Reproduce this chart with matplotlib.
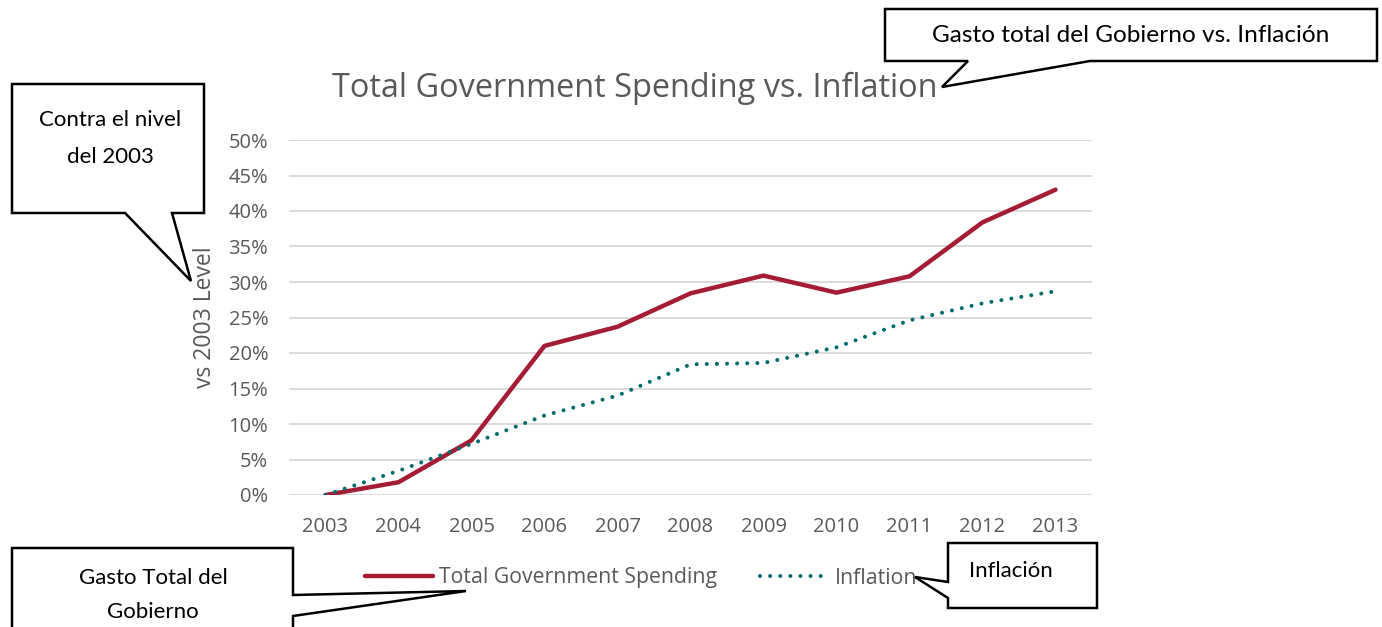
import matplotlib
matplotlib.use("Agg")
import matplotlib.pyplot as plt
from matplotlib.patches import Polygon
from matplotlib.ticker import PercentFormatter

# ---- data ----
years = ["2003", "2004", "2005", "2006", "2007", "2008", "2009", "2010", "2011", "2012", "2013"]
spending = [0.0, 1.8, 7.7, 21.0, 23.7, 28.4, 30.9, 28.5, 30.8, 38.4, 43.0]
inflation = [0.0, 3.4, 7.2, 11.2, 14.0, 18.4, 18.6, 20.8, 24.6, 27.0, 28.7]
yticks = [0, 5, 10, 15, 20, 25, 30, 35, 40, 45, 50]

title = "Total Government Spending vs. Inflation"
ylabel = "vs 2003 Level"
series_names = ["Total Government Spending", "Inflation"]

W, H = 1382, 627
GRAY = "#595959"
RED = "#A51C36"
TEAL = "#006B6B"
CHART_FONT = ["Open Sans", "DejaVu Sans"]
NOTE_FONT = ["Lato", "DejaVu Sans"]

fig = plt.figure(figsize=(W / 100, H / 100), dpi=100)
fig.patch.set_facecolor("white")

ax = fig.add_axes([289 / W, 1 - 495 / H, (1092 - 289) / W, (495 - 140) / H])
x = list(range(len(years)))
l1, = ax.plot(x, spending, color=RED, lw=3.2, solid_capstyle="round", solid_joinstyle="round", zorder=3)
l2, = ax.plot(x, inflation, color=TEAL, lw=2.9, linestyle=(0, (0.01, 2.5)),
              dash_capstyle="round", zorder=4)

ax.set_xlim(-0.5, len(years) - 0.5)
ax.set_ylim(0, 50)
ax.set_yticks(yticks)
ax.yaxis.set_major_formatter(PercentFormatter(decimals=0))
ax.set_xticks(x)
ax.set_xticklabels(years)
for s in ax.spines.values():
    s.set_visible(False)
ax.grid(axis="y", color="#D9D9D9", lw=1.3)
ax.set_axisbelow(True)
ax.tick_params(axis="both", length=0, labelsize=14.5, labelcolor=GRAY)
ax.tick_params(axis="y", pad=15)
ax.tick_params(axis="x", pad=16)
for lab in ax.get_xticklabels() + ax.get_yticklabels():
    lab.set_family(CHART_FONT)

fig.text(205 / W, 1 - 317 / H, ylabel, rotation=90, ha="center", va="center",
         fontsize=16.5, color=GRAY, family=CHART_FONT)
fig.text(635 / W, 1 - 88 / H, title, ha="center", va="center",
         fontsize=23.4, color=GRAY, family=CHART_FONT)

leg = fig.legend([l1, l2], series_names, loc="center", bbox_to_anchor=(641 / W, 1 - 578 / H),
                 ncol=2, frameon=False, handlelength=3.2, handletextpad=0.3,
                 columnspacing=2.0, prop={"family": CHART_FONT, "size": 15.3})
for t in leg.get_texts():
    t.set_color(GRAY)

# ---- callout overlay (pixel coordinates, y downward) ----
ov = fig.add_axes([0, 0, 1, 1], zorder=10)
ov.set_xlim(0, W)
ov.set_ylim(H, 0)
ov.axis("off")
ov.patch.set_alpha(0)

callouts = [
    [(12, 84), (204, 84), (204, 213), (172, 213), (191, 281), (125, 213), (12, 213)],
    [(885, 9), (1377, 9), (1377, 61), (1090, 61), (942, 87), (968, 61), (885, 61)],
    [(12, 548), (293, 548), (293, 595), (466, 591), (293, 616), (293, 660), (12, 660)],
    [(948, 543), (1097, 543), (1097, 608), (948, 608), (948, 598), (915, 577), (948, 582)],
]
for pts in callouts:
    ov.add_patch(Polygon(pts, closed=True, facecolor="white", edgecolor="black", lw=1.8,
                         joinstyle="miter"))

notes = [
    (110, 120, "Contra el nivel", 16),
    (110, 157, "del 2003", 16),
    (1131, 36, "Gasto total del Gobierno vs. Inflación", 17.6),
    (153, 578, "Gasto Total del", 16),
    (153, 612, "Gobierno", 16),
    (1011, 571, "Inflación", 16),
]
for nx, ny, txt, fs in notes:
    ov.text(nx, ny, txt, ha="center", va="center", fontsize=fs, color="black", family=NOTE_FONT)

fig.savefig("out.png", dpi=100, facecolor="white")
